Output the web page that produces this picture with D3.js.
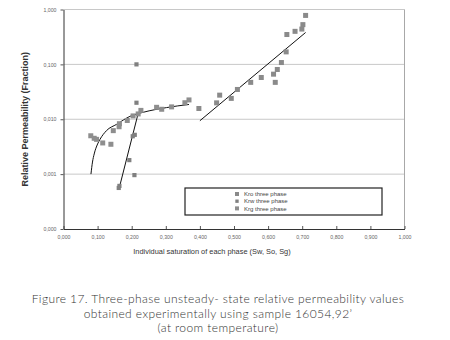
<!DOCTYPE html>
<html><head><meta charset="utf-8">
<script src="https://cdn.jsdelivr.net/npm/d3@7"></script>
<style>body{margin:0;background:#fff}svg{display:block}</style>
</head><body><svg id="c" width="450" height="340"></svg>
<script>
// ---- data ----
const xTicks = [0,0.1,0.2,0.3,0.4,0.5,0.6,0.7,0.8,0.9,1.0];
const yTicks = [0.0001,0.001,0.01,0.1,1];
const seriesNames = ["Kro three phase","Krw three phase","Krg three phase"];
const kroS  = [0.397,0.449,0.458,0.492,0.510,0.549,0.580,0.616,0.621,0.627,0.639,0.653,0.655,0.679,0.699,0.702,0.710];
const kroV  = [0.0157,0.0199,0.0275,0.024,0.0349,0.047,0.0577,0.0663,0.047,0.0807,0.108,0.169,0.35,0.40,0.44,0.53,0.78];
const krwS  = [0.162,0.164,0.193,0.203,0.209,0.208,0.214,0.214];
const krwV  = [0.00056,0.00061,0.0018,0.0049,0.0052,0.00096,0.1,0.020];
const krgS  = [0.080,0.090,0.097,0.115,0.139,0.146,0.163,0.164,0.187,0.204,0.219,0.227,0.273,0.288,0.317,0.356,0.368];
const krgV  = [0.0050,0.0045,0.0043,0.0037,0.0035,0.0062,0.0073,0.0083,0.0095,0.0115,0.0125,0.0145,0.0165,0.0152,0.0168,0.020,0.0225];
// trend lines, points
const kroTrendS = [0.400,0.710];
const kroTrendV = [0.0094,0.381];
const krwTrendS = [0.1625,0.219];
const krwTrendV = [0.00053,0.0128];
const krgTrendS = [0.0805,0.085,0.090,0.100,0.107,0.126,0.156,0.195,0.234,0.302,0.368];
const krgTrendV = [0.0010,0.00166,0.00233,0.00354,0.0043,0.0062,0.0081,0.0113,0.0134,0.0163,0.0186];
const caption = ["Figure 17. Three-phase unsteady- state relative permeability values",
                 "obtained experimentally using sample 16054,92’",
                 "(at room temperature)"];

const svg = d3.select("#c");
const x = d3.scaleLinear().domain([0,1]).range([63.5,404.5]);
const y = d3.scaleLog().domain([0.0001,1]).range([229,9.5]);
const fmt = v => d3.format(".3f")(v).replace(".", ",");

// gridlines
svg.append("g").selectAll("line").data(yTicks.slice(1)).join("line")
  .attr("x1",x(0)).attr("x2",x(1)).attr("y1",d=>y(d)).attr("y2",d=>y(d))
  .attr("stroke","#c8c8c8").attr("stroke-width",1);
// right border
svg.append("line").attr("x1",x(1)).attr("x2",x(1)).attr("y1",y(1)).attr("y2",y(0.0001))
  .attr("stroke","#a8a8a8").attr("stroke-width",1);

// axes
const xAxis = d3.axisBottom(x).tickValues(xTicks).tickFormat(fmt).tickSizeInner(-3).tickSizeOuter(0).tickPadding(6);
const gx = svg.append("g").attr("transform",`translate(0,${y(0.0001)})`).call(xAxis);
gx.select(".domain").attr("stroke","#333");
gx.selectAll(".tick line").attr("stroke","#555");
gx.selectAll("text").attr("font-family","Liberation Sans, Arial, sans-serif").attr("font-size",5.2).attr("fill","#666");

const yAxis = d3.axisLeft(y).tickValues(yTicks).tickFormat(fmt).tickSizeInner(3).tickSizeOuter(0).tickPadding(4);
const gy = svg.append("g").attr("transform",`translate(${x(0)},0)`).call(yAxis);
gy.select(".domain").attr("stroke","#333");
gy.selectAll(".tick line").attr("stroke","#555");
gy.selectAll("text").attr("font-family","Liberation Sans, Arial, sans-serif").attr("font-size",5.2).attr("fill","#666");

// axis titles
svg.append("text").attr("transform",`translate(28,${(y(1)+y(0.0001))/2}) rotate(-90)`)
  .attr("text-anchor","middle").attr("font-family","Liberation Sans, Arial, sans-serif")
  .attr("font-size",9).attr("font-weight","bold").attr("fill","#333")
  .text("Relative Permeability (Fraction)");
svg.append("text").attr("x",212).attr("y",254).attr("text-anchor","middle")
  .attr("font-family","Liberation Sans, Arial, sans-serif").attr("font-size",7.4)
  .attr("fill","#333").text("Individual saturation of each phase (Sw, So, Sg)");

// trend lines
const line = d3.line().x(d=>x(d[0])).y(d=>y(d[1]));
const trends = [[kroTrendS,kroTrendV,d3.curveLinear],[krwTrendS,krwTrendV,d3.curveLinear],[krgTrendS,krgTrendV,d3.curveMonotoneX]];
trends.forEach(([s,v,c])=>{
  svg.append("path").datum(s.map((d,i)=>[d,v[i]])).attr("d",line.curve(c))
    .attr("fill","none").attr("stroke","#111").attr("stroke-width",1);
});

// points
const series = [[kroS,kroV,5,"#8a8a8a"],[krwS,krwV,4.2,"#808080"],[krgS,krgV,5,"#8e8e8e"]];
series.forEach(([s,v,sz,col])=>{
  svg.append("g").selectAll("rect").data(s.map((d,i)=>[d,v[i]])).join("rect")
    .attr("x",d=>x(d[0])-sz/2).attr("y",d=>y(d[1])-sz/2).attr("width",sz).attr("height",sz)
    .attr("fill",col);
});

// legend
const lg = svg.append("g");
lg.append("rect").attr("x",185).attr("y",188).attr("width",197).attr("height",27)
  .attr("fill","#fff").attr("stroke","#222").attr("stroke-width",1.2);
seriesNames.forEach((n,i)=>{
  const sz = series[i][2]*0.8;
  lg.append("rect").attr("x",237-sz/2).attr("y",194+i*7.2-sz/2).attr("width",sz).attr("height",sz).attr("fill",series[i][3]);
  lg.append("text").attr("x",244).attr("y",194+i*7.2+2.2).attr("font-family","Liberation Sans, Arial, sans-serif")
    .attr("font-size",6).attr("fill","#444").text(n);
});

// caption
caption.forEach((t,i)=>{
  svg.append("text").attr("x",218).attr("y",303+i*14.5).attr("text-anchor","middle")
    .attr("font-family","Lato, Open Sans, sans-serif").attr("font-weight",300).attr("font-size",12)
    .attr("letter-spacing",0.4).attr("fill","#333").text(t);
});
</script></body></html>
